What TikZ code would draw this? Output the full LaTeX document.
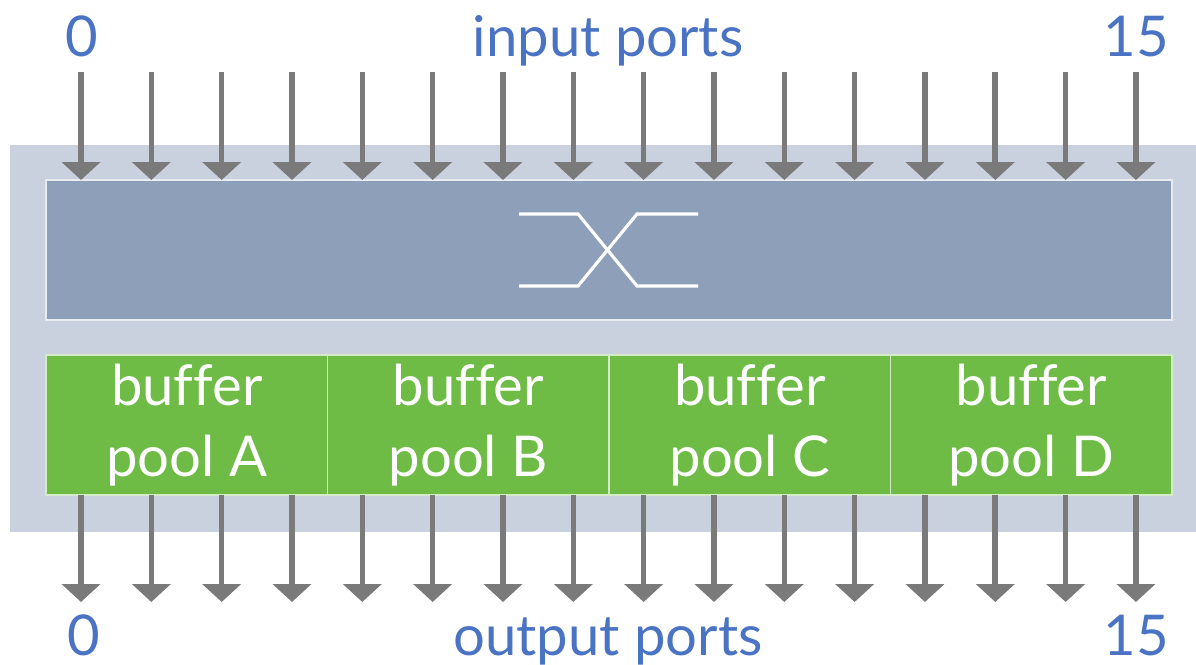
\documentclass[tikz,border=0pt]{standalone}
\usepackage{fontspec}
\setmainfont{Lato}[Ligatures=CommonOff]
\usepackage{tikz}
\usetikzlibrary{arrows.meta}
\definecolor{frameblue}{HTML}{C9D1DE}
\definecolor{switchblue}{HTML}{8EA0B9}
\definecolor{poolgreen}{HTML}{6EBB46}
\definecolor{portgrey}{HTML}{7A7A7A}
\definecolor{labelblue}{HTML}{4A73C4}
\begin{document}
\begin{tikzpicture}[x=0.02cm, y=-0.02cm, font=\fontsize{32}{40}\selectfont,
    frame/.style = {fill=frameblue, minimum width=23.72cm, minimum height=7.74cm, inner sep=0pt},
    switchbox/.style = {fill=switchblue, draw=white!80!switchblue, line width=1pt, minimum width=22.52cm, minimum height=2.8cm, inner sep=0pt},
    pool/.style = {fill=poolgreen, draw=white!70!poolgreen, line width=1pt, minimum width=5.63cm, minimum height=2.8cm, inner sep=0pt, text=white, align=center},
    port/.style = {draw=portgrey, line width=3.2pt, -{Triangle[width=0.76cm, length=0.36cm]}},
    portlabel/.style = {text=labelblue, anchor=base, inner sep=0pt}]
    \useasboundingbox (0,0) rectangle (1196,665);
    \node[frame] (fr) at (603,338.5) {};
    \node[switchbox] (sw) at (609,250) {};
    \node[pool] (pA) at (186.75,425) {buffer\\pool A};
    \node[pool] (pB) at (468.25,425) {buffer\\pool B};
    \node[pool] (pC) at (749.75,425) {buffer\\pool C};
    \node[pool] (pD) at (1031.25,425) {buffer\\pool D};
    % crossbar symbol
    \draw[white, line width=1.8pt] (519,214) -- (578,214) -- (637,286) -- (698,286);
    \draw[white, line width=1.8pt] (519,286) -- (578,286) -- (637,214) -- (698,214);
    % ports
    \foreach \i in {0,...,15} {
        \coordinate (in\i) at ({81+70.33*\i},72);
        \coordinate (sw\i) at ({81+70.33*\i},180);
        \coordinate (bf\i) at ({81+70.33*\i},495);
        \coordinate (out\i) at ({81+70.33*\i},602);
        \draw[port] (in\i) -- (sw\i);
        \draw[port] (bf\i) -- (out\i);
    }
    \node[portlabel] (i0) at (82,57) {0};
    \node[portlabel] (it) at (608,57) {input ports};
    \node[portlabel] (i15) at (1136,57) {15};
    \node[portlabel] (o0) at (84,655) {0};
    \node[portlabel] (ot) at (608,655) {output ports};
    \node[portlabel] (o15) at (1136,655) {15};
\end{tikzpicture}
\end{document}
